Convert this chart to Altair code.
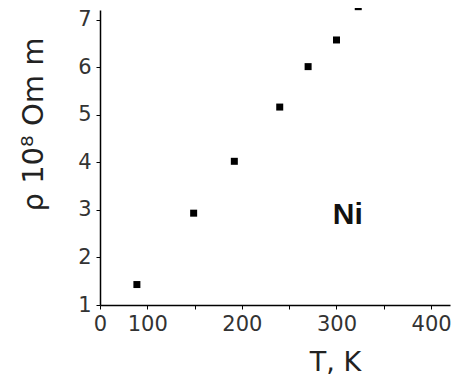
import altair as alt
import pandas as pd

# measured data (T in K, resistivity in 1e-8 Ohm m)
T_K = [89, 149, 192, 240, 270, 300, 323]
rho = [1.43, 2.93, 4.02, 5.16, 6.01, 6.57, 7.27]

x_tick_values = [50, 75, 100, 125, 150, 175, 200, 225, 250, 275, 300, 325, 350, 375, 400]
y_tick_values = [1, 1.5, 2, 2.5, 3, 3.5, 4, 4.5, 5, 5.5, 6, 6.5, 7]

note_text = ["Ni"]
note_T = [312]
note_rho = [2.9]

df = pd.DataFrame({"T": T_K, "rho": rho})
df_note = pd.DataFrame({"T": note_T, "rho": note_rho, "txt": note_text})

x_scale = alt.Scale(domain=[50, 420], nice=False, zero=False)
y_scale = alt.Scale(domain=[1, 7.2], nice=False, zero=False)

x_axis = alt.Axis(
    values=x_tick_values,
    labelExpr="datum.value == 50 ? '0' : (datum.value % 100 == 0 ? datum.label : '')",
    labelOverlap=False,
    labelFlush=False,
    labelFont="DejaVu Sans",
    labelFontSize=21,
    labelColor="#333333",
    labelPadding=4,
    tickSize=4,
    tickColor="black",
    domainColor="black",
    domainWidth=1.5,
    grid=False,
    title="T, K",
    titleFont="DejaVu Sans",
    titleFontSize=27,
    titleFontWeight="normal",
    titleColor="#222222",
    titleX=235,
    titleY=57,
    titleAlign="center",
    titleBaseline="middle",
)

y_axis = alt.Axis(
    values=y_tick_values,
    labelExpr="datum.value % 1 == 0 ? datum.label : ''",
    labelOverlap=False,
    labelFlush=False,
    labelFont="DejaVu Sans",
    labelFontSize=21,
    labelColor="#333333",
    labelPadding=5,
    tickSize=4,
    tickColor="black",
    domainColor="black",
    domainWidth=1.5,
    grid=False,
    title="ρ 10⁸ Om m",
    titleFont="DejaVu Sans",
    titleFontSize=29,
    titleFontWeight="normal",
    titleColor="#222222",
    titleAngle=270,
    titleX=-67,
    titleY=114,
    titleAlign="center",
    titleBaseline="middle",
)

points = alt.Chart(df).mark_square(size=49, color="black", opacity=1, clip=False).encode(
    x=alt.X("T:Q", scale=x_scale, axis=x_axis),
    y=alt.Y("rho:Q", scale=y_scale, axis=y_axis),
)

note = alt.Chart(df_note).mark_text(
    font="Liberation Sans", fontSize=30, fontWeight="bold", color="#111111",
    align="center", baseline="middle"
).encode(
    x=alt.X("T:Q", scale=x_scale),
    y=alt.Y("rho:Q", scale=y_scale),
    text="txt:N",
)

chart = (points + note).properties(
    width=350,
    height=295,
    padding={"left": 92, "top": 2, "right": 1, "bottom": 72},
    autosize=alt.AutoSizeParams(type="none"),
    background="white",
).configure_view(stroke=None)

chart.save("out.html", embed_options={"renderer": "svg", "actions": False})
